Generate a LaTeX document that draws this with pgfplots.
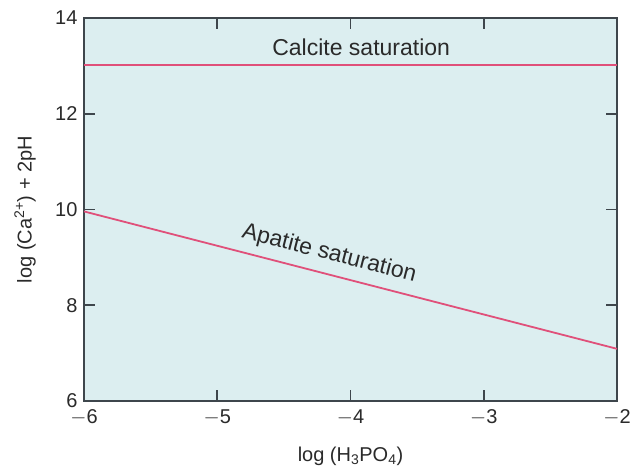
\documentclass[border=0pt]{standalone}
\usepackage{pgfplots}
\pgfplotsset{compat=1.18}
\usepackage{fontspec}
\setmainfont{Liberation Sans}
\definecolor{bgblue}{HTML}{DCEEF0}
\definecolor{pinkline}{HTML}{E0507A}
\definecolor{axgray}{HTML}{3E464C}
\definecolor{txt}{HTML}{2A2A2A}
\begin{document}
\begin{tikzpicture}
\begin{axis}[
  scale only axis,
  width=533pt, height=383pt,
  xmin=-6, xmax=-2, ymin=6, ymax=14,
  xtick={-6,-5,-4,-3,-2},
  ytick={6,8,10,12,14},
  xticklabels={$-$6,$-$5,$-$4,$-$3,$-$2},
  tick align=inside,
  major tick length=11pt,
  axis line style={axgray, line width=1.6pt},
  every tick/.style={axgray, line width=1.6pt},
  tick label style={font=\fontsize{20}{23}\selectfont, text=txt},
  xticklabel style={yshift=-5pt},
  yticklabel style={xshift=-3pt},
  /pgf/number format/assume math mode=true,
  axis background/.style={fill=bgblue},
  xlabel={log (H\textsubscript{3}PO\textsubscript{4})},
  ylabel={log (Ca\textsuperscript{2+}) + 2pH},
  label style={font=\fontsize{20}{24}\selectfont, text=txt},
  xlabel style={at={(axis description cs:0.5,0)}, anchor=center, yshift=-55pt},
  ylabel style={at={(axis description cs:0,0.5)}, anchor=center, yshift=59pt},
  clip=false,
]
\addplot[draw=pinkline, line width=1.8pt] coordinates {(-6,13.02) (-2,13.02)};
\addplot[draw=pinkline, line width=1.8pt] coordinates {(-6,9.96) (-2,7.09)};
\node[font=\fontsize{23}{27}\selectfont, text=txt] at (axis cs:-3.92,13.38) {Calcite saturation};
\node[font=\fontsize{23}{27}\selectfont, text=txt, rotate=-14.5] at (axis cs:-4.16,9.07) {Apatite saturation};
\end{axis}
\path (current axis.south west) ++(-84pt,-67pt) coordinate (A);
\path (current axis.north east) ++(13pt,18pt) coordinate (B);
\pgfresetboundingbox
\path (A) rectangle (B);
\end{tikzpicture}
\end{document}
